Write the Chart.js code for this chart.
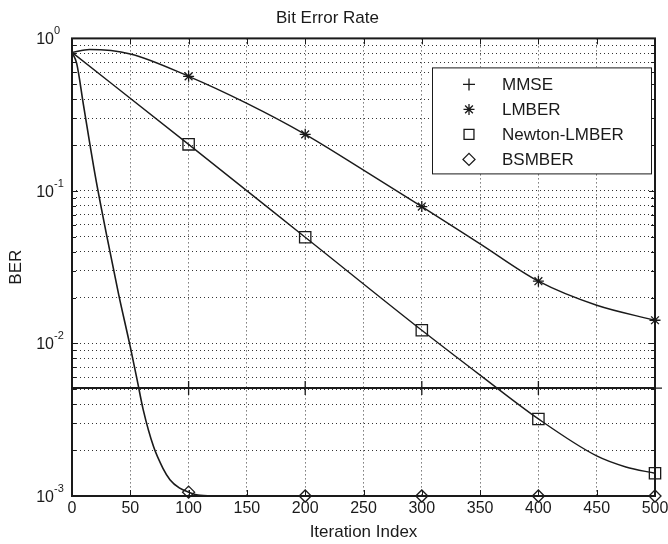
<!DOCTYPE html>
<html>
<head>
<meta charset="utf-8">
<script src="https://cdn.jsdelivr.net/npm/chart.js@4.4.1/dist/chart.umd.min.js"></script>
<style>
html, body { margin: 0; background: #fff; }
#wrap { width: 668px; height: 544px; }
</style>
</head>
<body>
<div id="wrap"><canvas id="graficoBER" width="668" height="544"></canvas></div>
<script>
// Datos (BER vs iteracion)
var iterMMSE = [0, 100, 200, 300, 400, 500];
var berMMSE = [0.0051, 0.0051, 0.0051, 0.0051, 0.0051, 0.0051];

var iterLMBER = [0, 15, 50, 100, 150, 200, 250, 300, 350, 400, 450, 500];
var berLMBER = [0.81, 0.845, 0.79, 0.564, 0.375, 0.235, 0.137, 0.079, 0.045, 0.0256, 0.0178, 0.0142];

var iterNewton = [0, 100, 200, 300, 350, 400, 450, 475, 500];
var berNewton = [0.81, 0.202, 0.0497, 0.0122, 0.0062, 0.0032, 0.00183, 0.00155, 0.00141];

var iterBSMBER = [0, 4, 10, 20, 30, 40, 50, 56, 61, 70, 78, 84, 92, 100, 110, 125, 200, 300, 400, 500];
var berBSMBER = [0.81, 0.686, 0.36, 0.125, 0.05, 0.021, 0.0095, 0.0057, 0.0037, 0.0021, 0.00152, 0.00128, 0.00113, 0.00106, 0.00101, 0.001, 0.001, 0.001, 0.001, 0.001];

var seriesNames = ['MMSE', 'LMBER', 'Newton-LMBER', 'BSMBER'];
var xTicks = [0, 50, 100, 150, 200, 250, 300, 350, 400, 450, 500];
var yDecades = [0.001, 0.01, 0.1, 1];
var yExponents = ['-3', '-2', '-1', '0'];

// ticks menores del eje log (1..9 por decada)
var yTicks = [];
for (var d = 0; d < yDecades.length - 1; d++) {
  for (var m = 1; m < 10; m++) yTicks.push(+(yDecades[d] * m).toPrecision(3));
}
yTicks.push(1);

function pares(xs, ys) {
  return xs.map(function (x, i) { return { x: x, y: ys[i] }; });
}

var FUENTE = '"Liberation Sans", Arial, Helvetica, sans-serif';
var NEGRO = '#1a1a1a';
Chart.defaults.font.family = FUENTE;
Chart.defaults.color = NEGRO;

function radioMarca(r) {
  return function (ctx) {
    var x = ctx.raw && ctx.raw.x;
    return (x > 0 && x % 100 === 0) ? r : 0;
  };
}

var estilos = [
  { style: 'cross', r: 7 },
  { style: 'star', r: 5.5 },
  { style: 'rect', r: 8 },
  { style: 'rectRot', r: 6 }
];

var datosLinea = {
  datasets: [
    { label: seriesNames[0], data: pares(iterMMSE, berMMSE), borderWidth: 2 },
    { label: seriesNames[1], data: pares(iterLMBER, berLMBER), borderWidth: 1.4 },
    { label: seriesNames[2], data: pares(iterNewton, berNewton), borderWidth: 1.4 },
    { label: seriesNames[3], data: pares(iterBSMBER, berBSMBER), borderWidth: 1.6 }
  ].map(function (ds, i) {
    ds.borderColor = NEGRO;
    ds.backgroundColor = 'rgba(0,0,0,0)';
    ds.pointStyle = estilos[i].style;
    ds.pointRadius = radioMarca(estilos[i].r);
    ds.pointBorderColor = NEGRO;
    ds.pointBackgroundColor = 'rgba(0,0,0,0)';
    ds.pointBorderWidth = 1.3;
    ds.cubicInterpolationMode = 'monotone';
    ds.fill = false;
    ds.clip = false;
    return ds;
  })
};

// marco, ticks internos, etiquetas 10^n y leyenda
var extras = {
  id: 'extras',
  afterDraw: function (chart) {
    var ctx = chart.ctx, a = chart.chartArea;
    var sx = chart.scales.x, sy = chart.scales.y;
    ctx.save();
    ctx.strokeStyle = NEGRO;
    ctx.lineWidth = 1;
    ctx.beginPath();
    xTicks.forEach(function (v) {
      var px = Math.round(sx.getPixelForValue(v)) + 0.5;
      ctx.moveTo(px, a.bottom); ctx.lineTo(px, a.bottom - 6);
      ctx.moveTo(px, a.top); ctx.lineTo(px, a.top + 6);
    });
    yTicks.forEach(function (v) {
      var py = Math.round(sy.getPixelForValue(v)) + 0.5;
      var len = yDecades.indexOf(v) >= 0 ? 6 : 4;
      ctx.moveTo(a.left, py); ctx.lineTo(a.left + len, py);
      ctx.moveTo(a.right, py); ctx.lineTo(a.right - len, py);
    });
    ctx.stroke();

    ctx.lineWidth = 2;
    ctx.strokeRect(a.left, a.top, a.right - a.left, a.bottom - a.top);

    // etiquetas del eje y
    ctx.fillStyle = NEGRO;
    ctx.textBaseline = 'alphabetic';
    yDecades.forEach(function (v, i) {
      var py = sy.getPixelForValue(v);
      ctx.font = '16px ' + FUENTE;
      ctx.textAlign = 'right';
      ctx.fillText('10', a.left - 18, py + 6);
      ctx.font = '11px ' + FUENTE;
      ctx.textAlign = 'left';
      ctx.fillText(yExponents[i], a.left - 18, py - 4);
    });

    // leyenda
    var lx = a.right - 4 - 219, ly = a.top + 29, lw = 219, lh = 106;
    ctx.fillStyle = '#fff';
    ctx.fillRect(lx, ly, lw, lh);
    ctx.lineWidth = 1;
    ctx.strokeRect(lx + 0.5, ly + 0.5, lw, lh);
    ctx.font = '17px ' + FUENTE;
    ctx.textAlign = 'left';
    ctx.textBaseline = 'middle';
    seriesNames.forEach(function (n, i) {
      var cy = ly + 17 + i * 25, cx = lx + 37;
      ctx.fillStyle = 'rgba(0,0,0,0)';
      ctx.strokeStyle = NEGRO;
      ctx.lineWidth = 1.3;
      Chart.helpers.drawPoint(ctx, {
        pointStyle: estilos[i].style,
        radius: i === 0 ? 6 : estilos[i].r - (i === 2 ? 1 : 0),
        borderWidth: 1.3
      }, cx, cy);
      ctx.fillStyle = NEGRO;
      ctx.fillText(n, lx + 70, cy + 1);
    });
    ctx.restore();
  }
};

var opciones = {
  responsive: false,
  animation: false,
  layout: { padding: { left: 0, right: 13, top: 0, bottom: 0 } },
  plugins: {
    legend: { display: false },
    tooltip: { enabled: false },
    title: {
      display: true,
      text: 'Bit Error Rate',
      color: NEGRO,
      font: { size: 17, weight: 'normal' },
      padding: { top: 8, bottom: 10 }
    }
  },
  scales: {
    x: {
      type: 'linear',
      min: 0,
      max: 500,
      afterFit: function (s) { s.height = 48; s.paddingLeft = 0; s.paddingRight = 0; },
      afterBuildTicks: function (s) { s.ticks = xTicks.map(function (v) { return { value: v }; }); },
      ticks: { autoSkip: false, maxRotation: 0, padding: 3, color: NEGRO, font: { size: 16 } },
      grid: { color: '#333', lineWidth: 1, drawTicks: false, borderDash: [1, 3] },
      border: { display: false, dash: [1, 3] },
      title: { display: true, text: 'Iteration Index', color: NEGRO, font: { size: 17 }, padding: { top: 0, bottom: 1 } }
    },
    y: {
      type: 'logarithmic',
      min: 0.001,
      max: 1,
      afterFit: function (s) { s.width = 72; },
      afterBuildTicks: function (s) { s.ticks = yTicks.map(function (v) { return { value: v }; }); },
      ticks: { autoSkip: false, callback: function () { return ''; } },
      grid: { color: '#333', lineWidth: 1, drawTicks: false, borderDash: [1, 3] },
      border: { display: false, dash: [1, 3] },
      title: { display: true, text: 'BER', color: NEGRO, font: { size: 17 }, padding: { top: 6, bottom: 0 } }
    }
  }
};

var ctxLinea = document.getElementById('graficoBER').getContext('2d');
new Chart(ctxLinea, {
  type: 'line',
  data: datosLinea,
  options: opciones,
  plugins: [extras]
});
</script>
</body>
</html>
